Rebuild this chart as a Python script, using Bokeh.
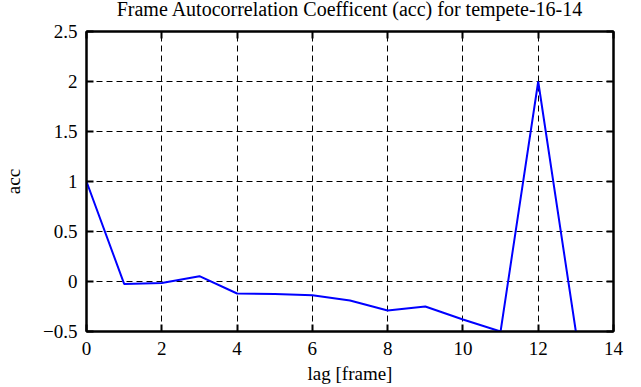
from bokeh.plotting import figure
from bokeh.models import LinearAxis, Range1d, FixedTicker, Title
from bokeh.embed import file_html
from bokeh.resources import INLINE

lag = [0, 1, 2, 3, 4, 5, 6, 7, 8, 9, 10, 11, 12, 13]
acc = [1.0, -0.024, -0.014, 0.053, -0.12, -0.125, -0.137, -0.19, -0.29, -0.25, -0.38, -0.5, 2.0, -0.5]
x_ticks = [0, 2, 4, 6, 8, 10, 12, 14]
y_ticks = [-0.5, 0, 0.5, 1, 1.5, 2, 2.5]
title_text = "Frame Autocorrelation Coefficent (acc) for tempete-16-14"
x_label = "lag [frame]"
y_label = "acc"

FONT = "Liberation Serif"
FS = "19px"

p = figure(width=641, height=387, output_backend="svg", toolbar_location=None,
           x_range=Range1d(0, 14), y_range=Range1d(-0.5, 2.5),
           min_border_left=86, min_border_right=28, min_border_top=31, min_border_bottom=56,
           x_axis_label=x_label, y_axis_label=y_label)

p.title = Title(text=title_text + "\n", align="center", vertical_align="bottom",
                text_font=FONT, text_font_size="20px",
                text_font_style="normal", text_color="black", standoff=-20)

p.line(lag, acc, line_color="#0000ff", line_width=2)

p.outline_line_color = "black"
p.outline_line_width = 2
p.background_fill_color = "white"
p.border_fill_color = "white"

for g in (p.xgrid, p.ygrid):
    g.grid_line_color = "black"
    g.grid_line_dash = "6 4"
    g.grid_line_width = 1
p.xgrid.ticker = FixedTicker(ticks=x_ticks)
p.ygrid.ticker = FixedTicker(ticks=y_ticks)

def style(ax, ticks, labels=True):
    ax.ticker = FixedTicker(ticks=ticks)
    ax.axis_line_color = "black"
    ax.axis_line_width = 2
    ax.major_tick_in = 7
    ax.major_tick_out = 0
    ax.major_tick_line_width = 2
    ax.minor_tick_line_color = None
    ax.major_label_text_font = FONT
    ax.major_label_text_font_size = FS
    ax.major_label_text_font_style = "normal"
    ax.major_label_text_color = "black"
    ax.axis_label_text_font = FONT
    ax.axis_label_text_font_size = FS
    ax.axis_label_text_font_style = "normal"
    ax.axis_label_text_color = "black"
    if not labels:
        ax.major_label_overrides = {t: "" for t in ticks}
        ax.major_label_standoff = 0

style(p.xaxis[0], x_ticks)
style(p.yaxis[0], y_ticks)
p.xaxis[0].major_label_standoff = 10
p.yaxis[0].major_label_standoff = 9
p.xaxis[0].axis_label_standoff = 5
p.yaxis[0].axis_label_standoff = 16

top = LinearAxis()
style(top, x_ticks, labels=False)
p.add_layout(top, "above")
right = LinearAxis()
style(right, y_ticks, labels=False)
p.add_layout(right, "right")

open("out.html", "w").write(file_html(p, INLINE))
